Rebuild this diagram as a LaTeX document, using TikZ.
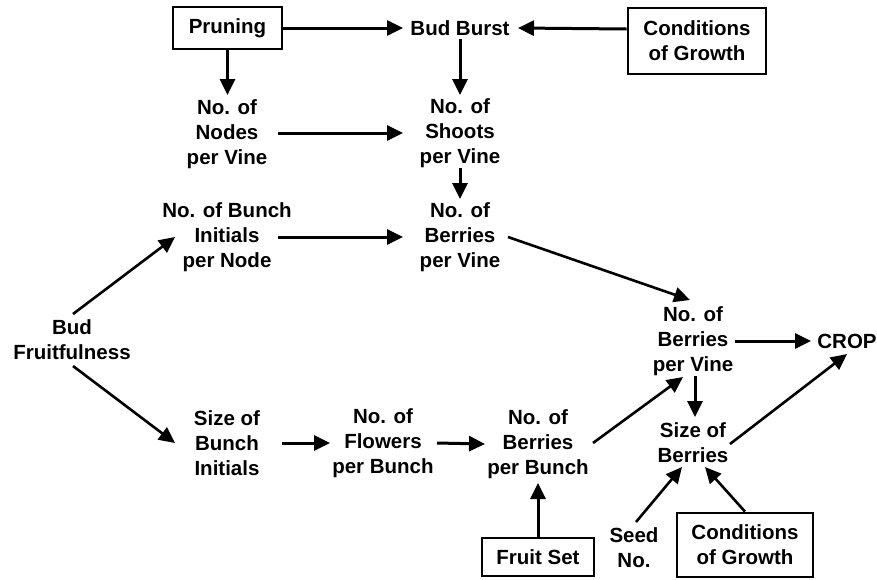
\documentclass[tikz,border=0pt]{standalone}
\usepackage{fontspec}
\setmainfont{Liberation Sans}
\usetikzlibrary{arrows.meta,calc}
\begin{document}
\begin{tikzpicture}[x=1pt,y=-1pt,
  lbl/.style={align=center,inner sep=0pt,font=\fontsize{20.5}{25}\selectfont\bfseries},
  boxed/.style={lbl,draw,line width=2.8pt},
  arr/.style={line width=3pt,-{Triangle[length=16pt,width=15pt]}},
  darr/.style={line width=2.6pt,-{Triangle[length=16pt,width=15pt]}}]
\useasboundingbox (0,0) rectangle (877,579);
% nodes
\node[boxed,minimum width=109pt,minimum height=42pt] (prun) at (227.5,28) {Pruning};
\node[lbl] (bb) at (460,28) {Bud Burst};
\node[boxed,minimum width=138pt,minimum height=66pt] (cg1) at (697,41) {Conditions\\of Growth};
\node[lbl] (nv) at (227,134) {No. of\\Nodes\\per Vine};
\node[lbl] (sv) at (460,133) {No. of\\Shoots\\per Vine};
\node[lbl] (bi) at (227,237) {No. of Bunch\\Initials\\per Node};
\node[lbl] (bv) at (460,237) {No. of\\Berries\\per Vine};
\node[lbl] (bf) at (72,340) {Bud\\Fruitfulness};
\node[lbl] (bv2) at (693,341) {No. of\\Berries\\per Vine};
\node[lbl] (crop) at (847,341) {CROP};
\node[lbl] (sb) at (227,443) {Size of\\Bunch\\Initials};
\node[lbl] (fl) at (383,443) {No. of\\Flowers\\per Bunch};
\node[lbl] (bb2) at (538,444) {No. of\\Berries\\per Bunch};
\node[lbl] (sz) at (693,443) {Size of\\Berries};
\node[boxed,minimum width=112pt,minimum height=38pt] (fs) at (538,557) {Fruit Set};
\node[lbl] (seed) at (634,548) {Seed\\No.};
\node[boxed,minimum width=136pt,minimum height=64pt] (cg2) at (745,545) {Conditions\\of Growth};
% connectors
\draw[arr] (prun.east) -- ($(bb)+(-57,0)$);
\draw[arr] ($(cg1.west)+(0,-12)$) -- ($(bb)+(58,0)$);
\draw[arr] ($(bb)+(0,11)$) -- ($(sv)+(0,-38)$);
\draw[arr] (prun.south) -- ($(nv)+(0.5,-39)$);
\draw[arr] ($(nv)+(51,-1)$) -- ($(sv)+(-57,0)$);
\draw[arr] ($(sv)+(0,35)$) -- ($(bv)+(0,-38)$);
\draw[arr] ($(bi)+(51,0)$) -- ($(bv)+(-57,0)$);
\draw[darr] ($(bf)+(1,-26)$) -- ($(bi)+(-52,0)$);
\draw[darr] ($(bf)+(1,26)$) -- ($(sb)+(-52,0)$);
\draw[arr] ($(sb)+(55,0)$) -- ($(fl)+(-53,0)$);
\draw[arr] ($(fl)+(54,0)$) -- ($(bb2)+(-53,0)$);
\draw[arr] (fs.north) -- ($(bb2)+(0,39)$);
\draw[darr] ($(bb2)+(55,-1)$) -- ($(bv2)+(-10,36)$);
\draw[darr] ($(bv)+(48,0)$) -- ($(bv2)+(-3,-41)$);
\draw[arr] ($(bv2)+(42,0)$) -- ($(crop)+(-36,0)$);
\draw[arr] ($(bv2)+(2,35)$) -- ($(sz)+(2,-26)$);
\draw[darr] ($(sz)+(37,1)$) -- ($(crop)+(0,13)$);
\draw[darr] ($(seed)+(2,-26)$) -- ($(sz)+(-11,24)$);
\draw[darr] (cg2.north) -- ($(sz)+(12,24)$);
\end{tikzpicture}
\end{document}
